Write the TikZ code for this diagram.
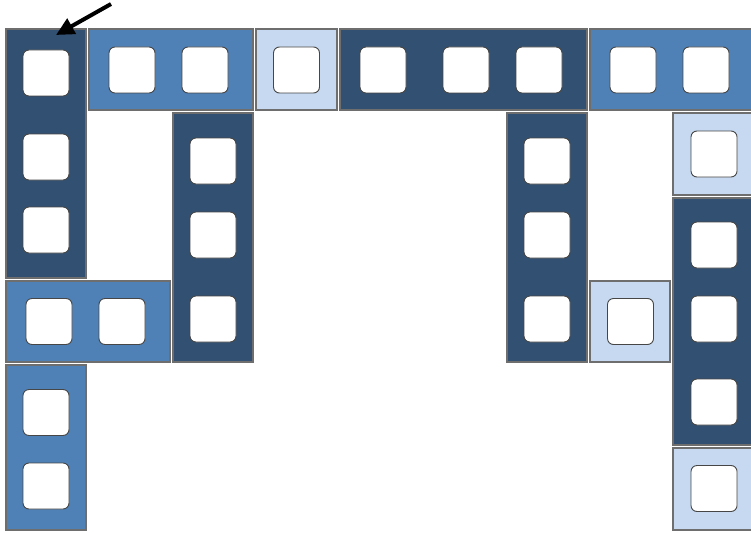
\documentclass[tikz,border=0pt]{standalone}
\usetikzlibrary{arrows.meta}
\definecolor{bdark}{RGB}{50,80,113}
\definecolor{bmid}{RGB}{79,129,182}
\definecolor{blight}{RGB}{198,217,240}
\definecolor{holeline}{RGB}{70,70,70}
\definecolor{edgegray}{RGB}{110,110,110}
\tikzset{
  blockbox/.style={draw=edgegray, line width=1.1pt, inner sep=0pt, outer sep=0pt},
  darkbox/.style={blockbox, fill=bdark},
  midbox/.style={blockbox, fill=bmid},
  lightbox/.style={blockbox, fill=blight},
  holebox/.style={draw=holeline, line width=0.9pt, fill=white, rounded corners=6pt,
    minimum width=46pt, minimum height=46pt, inner sep=0pt},
  pointer/.style={line width=4pt, -{Triangle[length=18pt,width=17pt]}}
}
% #1 name, #2 style, #3 x-left, #4 y-top, #5 width, #6 height
\newcommand{\blk}[6]{\node[#2, minimum width=#5pt, minimum height=#6pt] (#1) at ({#3+#5/2},{#4+#6/2}) {};}
\begin{document}
\begin{tikzpicture}[x=1pt,y=-1pt]
\useasboundingbox (0,0) rectangle (751,532);
\clip (0,0) rectangle (751,532);
% blocks
\blk{b1}{darkbox}{6}{29}{80}{249}
\blk{b2}{midbox}{89}{29}{164}{81}
\blk{b3}{lightbox}{256}{29}{81}{81}
\blk{b4}{darkbox}{340}{29}{247}{81}
\blk{b5}{midbox}{590}{29}{170}{81}
\blk{b6}{darkbox}{173}{113}{80}{249}
\blk{b7}{darkbox}{507}{113}{80}{249}
\blk{b8}{lightbox}{673}{113}{90}{82}
\blk{b9}{darkbox}{673}{198}{90}{247}
\blk{b10}{midbox}{6}{281}{164}{81}
\blk{b11}{lightbox}{590}{281}{80}{81}
\blk{b12}{midbox}{6}{365}{80}{165}
\blk{b13}{lightbox}{673}{448}{90}{82}
% holes
\node[holebox] (h1a) at (46,73) {};
\node[holebox] (h1b) at (46,157) {};
\node[holebox] (h1c) at (46,230) {};
\node[holebox] (h2a) at (132,70) {};
\node[holebox] (h2b) at (205,70) {};
\node[holebox] (h3a) at (296.5,70) {};
\node[holebox] (h4a) at (383,70) {};
\node[holebox] (h4b) at (466,70) {};
\node[holebox] (h4c) at (539,70) {};
\node[holebox] (h5a) at (633,70) {};
\node[holebox] (h5b) at (706,70) {};
\node[holebox] (h6a) at (213,161) {};
\node[holebox] (h6b) at (213,235) {};
\node[holebox] (h6c) at (213,319) {};
\node[holebox] (h7a) at (547,161) {};
\node[holebox] (h7b) at (547,235) {};
\node[holebox] (h7c) at (547,319) {};
\node[holebox] (h8a) at (714,154) {};
\node[holebox] (h9a) at (714,245) {};
\node[holebox] (h9b) at (714,319) {};
\node[holebox] (h9c) at (714,402) {};
\node[holebox] (h10a) at (49,321.5) {};
\node[holebox] (h10b) at (122,321.5) {};
\node[holebox] (h11a) at (630.5,321.5) {};
\node[holebox] (h12a) at (46,412.5) {};
\node[holebox] (h12b) at (46,486) {};
\node[holebox] (h13a) at (714,488.5) {};
% arrow
\coordinate (arrS) at (111,4);
\coordinate (arrE) at (56,35);
\draw[pointer] (arrS) -- (arrE);
\end{tikzpicture}
\end{document}
